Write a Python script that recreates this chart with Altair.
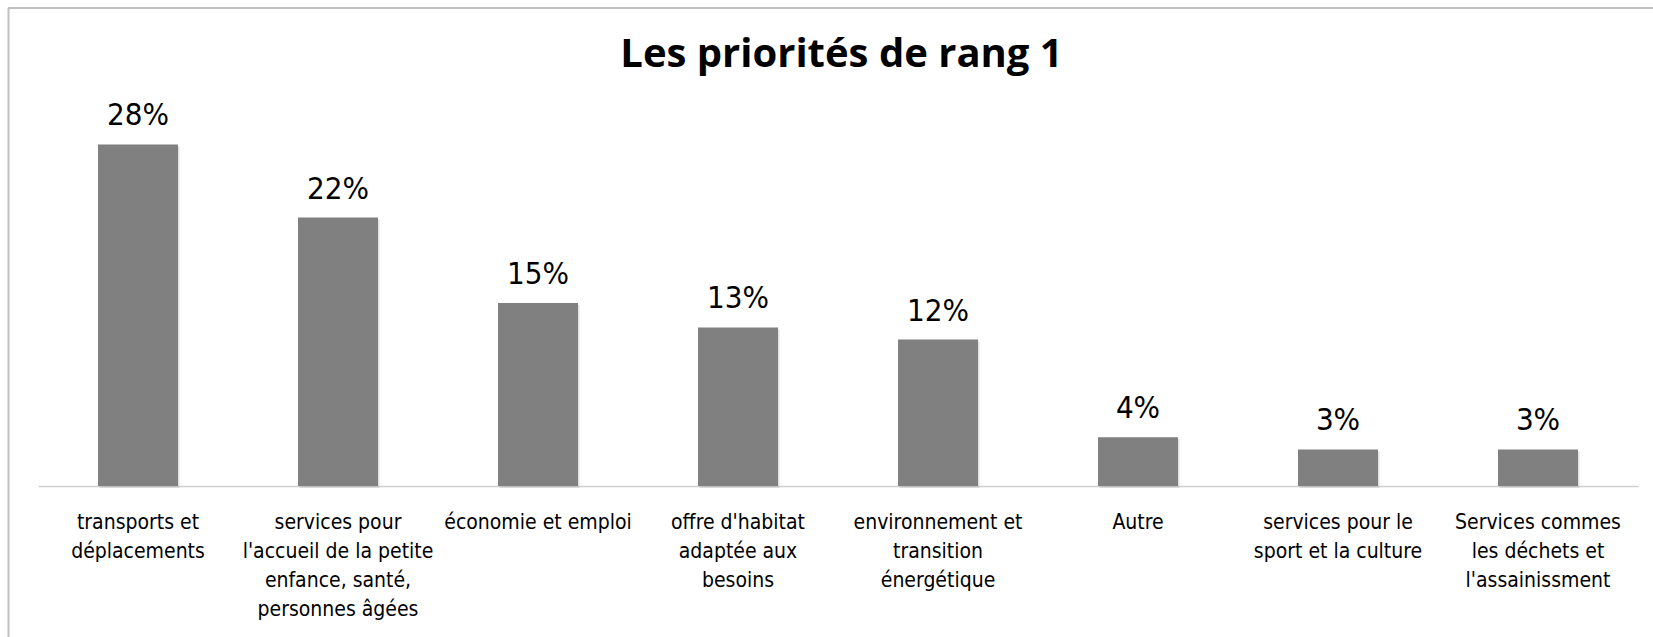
import altair as alt
import pandas as pd

# Category labels (line breaks as displayed under each bar) and their shares in percent
categories = [
    "transports et\ndéplacements",
    "services pour\nl'accueil de la petite\nenfance, santé,\npersonnes âgées",
    "économie et emploi",
    "offre d'habitat\nadaptée aux\nbesoins",
    "environnement et\ntransition\nénergétique",
    "Autre",
    "services pour le\nsport et la culture",
    "Services commes\nles déchets et\nl'assainissment",
]
shares = [28, 22, 15, 13, 12, 4, 3, 3]

title_text = "Les priorités de rang 1"

df = pd.DataFrame({"categorie": categories, "part": shares})

NARROW = "Liberation Sans Narrow, Arial Narrow, DejaVu Sans Condensed, Liberation Sans, sans-serif"
BORDER = "#c0c0c0"

base = alt.Chart(df).encode(
    x=alt.X(
        "categorie:N",
        sort=categories,
        scale=alt.Scale(paddingInner=0.6, paddingOuter=0.3),
        axis=alt.Axis(
            title=None,
            labelAngle=0,
            ticks=False,
            domainColor="#d0d0d0",
            domainWidth=1.5,
            labelFont=NARROW,
            labelFontSize=21,
            labelColor="#000000",
            labelPadding=25,
            labelLineHeight=29,
            labelLimit=400,
            labelExpr="split(datum.label, '\\n')",
        ),
    ),
    y=alt.Y("part:Q", scale=alt.Scale(domain=[0, 30]), axis=None),
)

# soft drop shadow under each bar, then the bar itself
shadow = base.mark_bar(color="#9a9a9a", opacity=0.3, xOffset=1.5, yOffset=2)
bars = base.mark_bar(color="#808080")

labels = base.transform_calculate(lbl="datum.part + '%'").mark_text(
    font=NARROW, fontSize=31, color="#000000", baseline="alphabetic", dy=-19
).encode(text="lbl:N")

# Outer frame of the chart (left and top edges) and the centred heading
one_row = pd.DataFrame({"k": [0]})
frame_left = alt.Chart(one_row).mark_rule(color=BORDER, strokeWidth=2).encode(
    x=alt.value(-29.5), y=alt.value(-112), y2=alt.value(560)
)
frame_top = alt.Chart(one_row).mark_rule(color=BORDER, strokeWidth=2).encode(
    x=alt.value(-30), x2=alt.value(1640), y=alt.value(-112)
)
heading = alt.Chart(one_row).mark_text(
    text=title_text,
    font="Open Sans, Lato, sans-serif",
    fontSize=40,
    fontWeight="bold",
    color="#000000",
    align="center",
    baseline="alphabetic",
).encode(x=alt.value(803.5), y=alt.value(-53))

chart = (
    alt.layer(frame_left, frame_top, shadow, bars, labels, heading)
    .properties(
        width=1600,
        height=366,
        autosize=alt.AutoSizeParams(type="none"),
        padding={"left": 38, "top": 120, "right": 15, "bottom": 151},
        background="#ffffff",
    )
    .configure_view(stroke=None)
)

chart.save("out.html", embed_options={"renderer": "svg", "actions": False})
